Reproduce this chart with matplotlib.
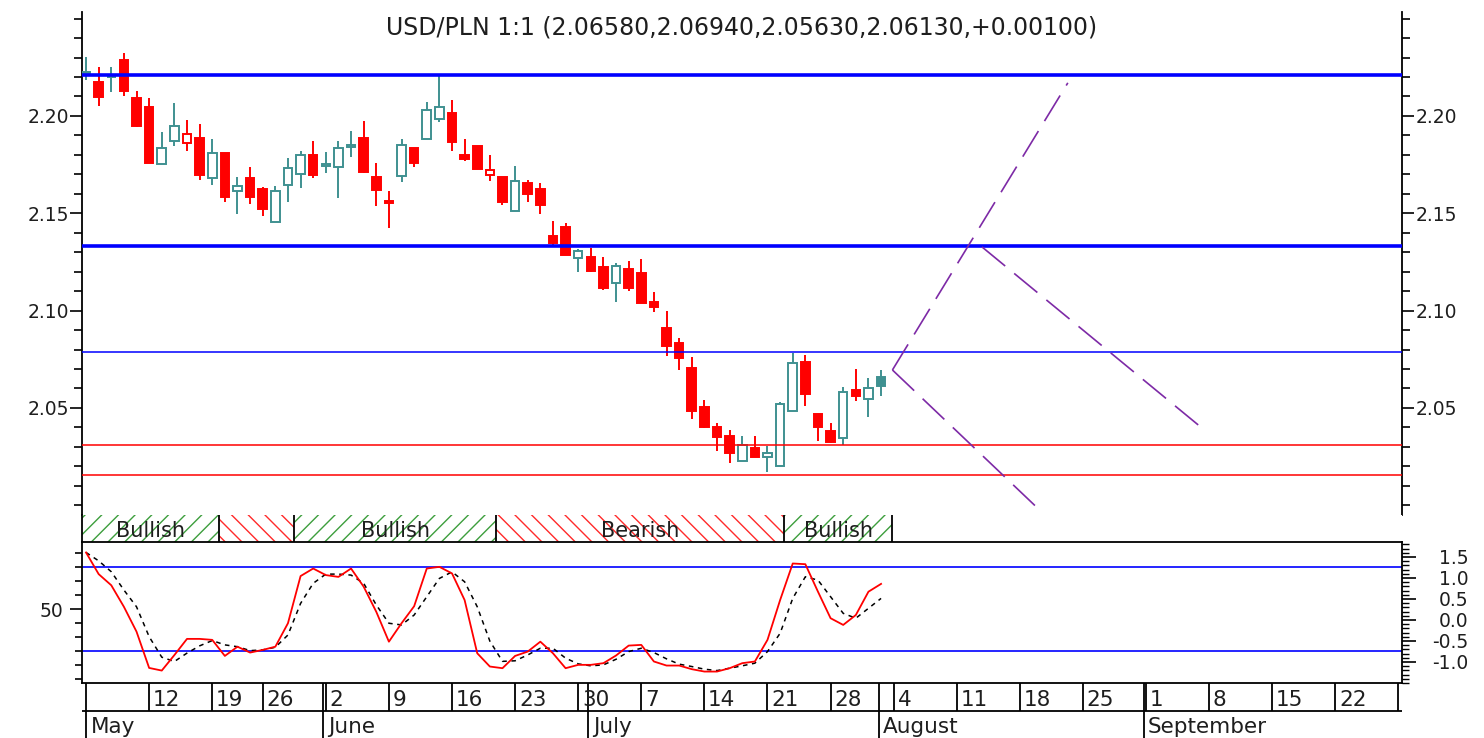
import numpy as np
import matplotlib.pyplot as plt
from matplotlib.patches import Rectangle
from matplotlib.ticker import FixedLocator, MultipleLocator

plt.rcParams['font.family'] = ['DejaVu Sans']
plt.rcParams['hatch.linewidth'] = 1.0

# ---- daily candles USD/PLN (trading-day index 0..63, May 5 .. Aug 1)
opens = [2.2221, 2.2175, 2.2198, 2.2288, 2.2092, 2.2046, 2.1753, 2.1872, 2.1861, 2.1887,
         2.1681, 2.1810, 2.1615, 2.1681, 2.1625, 2.1455, 2.1646, 2.1702, 2.1800, 2.1743,
         2.1738, 2.1841, 2.1887, 2.1687, 2.1563, 2.1692, 2.1836, 2.1882, 2.1985, 2.2015,
         2.1800, 2.1846, 2.1697, 2.1687, 2.1512, 2.1656, 2.1625, 2.1384, 2.1430, 2.1271,
         2.1276, 2.1224, 2.1142, 2.1214, 2.1193, 2.1045, 2.0911, 2.0834, 2.0705, 2.0505,
         2.0402, 2.0356, 2.0228, 2.0294, 2.0248, 2.0202, 2.0485, 2.0736, 2.0469, 2.0382,
         2.0346, 2.0592, 2.0546, 2.0658]
highs = [2.2303, 2.2252, 2.2252, 2.2324, 2.2128, 2.2092, 2.1918, 2.2067, 2.1979, 2.1959,
         2.1882, 2.1810, 2.1687, 2.1738, 2.1635, 2.1640, 2.1784, 2.1820, 2.1872, 2.1815,
         2.1872, 2.1923, 2.1974, 2.1759, 2.1615, 2.1882, 2.1836, 2.2072, 2.2211, 2.2082,
         2.1882, 2.1846, 2.1800, 2.1687, 2.1743, 2.1671, 2.1656, 2.1461, 2.1450, 2.1317,
         2.1322, 2.1276, 2.1245, 2.1255, 2.1265, 2.1096, 2.0998, 2.0860, 2.0762, 2.0541,
         2.0423, 2.0387, 2.0356, 2.0356, 2.0305, 2.0531, 2.0783, 2.0772, 2.0469, 2.0423,
         2.0608, 2.0700, 2.0654, 2.0694]
lows = [2.2185, 2.2051, 2.2123, 2.2103, 2.1943, 2.1759, 2.1753, 2.1846, 2.1820, 2.1671,
        2.1646, 2.1558, 2.1497, 2.1548, 2.1486, 2.1455, 2.1558, 2.1630, 2.1681, 2.1707,
        2.1579, 2.1789, 2.1707, 2.1538, 2.1425, 2.1661, 2.1738, 2.1882, 2.1969, 2.1820,
        2.1769, 2.1728, 2.1666, 2.1543, 2.1512, 2.1558, 2.1497, 2.1337, 2.1286, 2.1199,
        2.1199, 2.1106, 2.1045, 2.1101, 2.1039, 2.0993, 2.0767, 2.0695, 2.0443, 2.0397,
        2.0279, 2.0217, 2.0228, 2.0248, 2.0171, 2.0202, 2.0485, 2.0510, 2.0330, 2.0320,
        2.0310, 2.0536, 2.0454, 2.0563]
closes = [2.2226, 2.2098, 2.2202, 2.2128, 2.1949, 2.1759, 2.1836, 2.1949, 2.1908, 2.1697,
          2.1810, 2.1584, 2.1640, 2.1584, 2.1522, 2.1615, 2.1733, 2.1800, 2.1697, 2.1753,
          2.1836, 2.1851, 2.1712, 2.1620, 2.1553, 2.1851, 2.1759, 2.2031, 2.2046, 2.1866,
          2.1779, 2.1728, 2.1722, 2.1558, 2.1666, 2.1599, 2.1543, 2.1348, 2.1286, 2.1307,
          2.1204, 2.1116, 2.1229, 2.1116, 2.1039, 2.1019, 2.0818, 2.0757, 2.0485, 2.0402,
          2.0351, 2.0269, 2.0310, 2.0248, 2.0269, 2.0521, 2.0731, 2.0572, 2.0402, 2.0325,
          2.0582, 2.0562, 2.0603, 2.0613]

# stochastic oscillator (%K red, %D dashed)
stoch_k = [90.5, 75, 67, 51.6, 33.8, 7.8, 5.9, 17, 28.6, 28.6,
           27.9, 16.4, 23, 18.8, 20.7, 23, 39.8, 73.6, 79, 74.3,
           73, 79, 66, 48, 26.6, 39.8, 52, 79, 80.2, 75.5,
           56.4, 18.3, 8.8, 7.6, 16.4, 19.5, 26.6, 18.3, 7.6, 10,
           10, 11.2, 16.7, 23.8, 24.3, 12.4, 9.5, 9.5, 6.9, 5.2,
           5.2, 7.6, 11.2, 12.4, 27.9, 56.4, 82.6, 82.1, 62.4, 43.4,
           38.6, 45.7, 62.4, 68]
stoch_d = [90.5, 84.5, 76.7, 63.6, 51.6, 30.2, 15.5, 12.4, 18.4, 23.6,
           27.4, 24.3, 23, 20.2, 20.7, 22.6, 31.4, 54, 68.4, 75,
           75, 74.3, 68.4, 52.9, 39.8, 38.6, 45.7, 58.8, 71.9, 76.6,
           69.5, 51.6, 27, 12.5, 12.9, 17.1, 21.9, 21.9, 14.8, 10.7,
           9.3, 10, 14, 19.5, 21.9, 18.8, 14.3, 10.5, 8.8, 6.9,
           5.9, 7.6, 9.3, 11.2, 19.5, 32.6, 57.6, 73.1, 70.7, 58.8,
           46.9, 43.4, 50.5, 57.6]

# horizontal support / resistance lines
blue_thick = [2.2211, 2.1332]
blue_thin = [2.0788]
red_levels = [2.0310, 2.0156]

# purple trend lines (x in trading days)
fan_a = ([63.9, 77.8], [2.0695, 2.2170])
fan_b = ([63.9, 75.8], [2.0695, 1.9961])
fan_c = ([71.0, 88.8], [2.1327, 2.0377])

# trend band
band_edges = [-0.32, 10.5, 16.5, 32.5, 55.3, 63.9]
band_kind = ['bull', 'bear', 'bull', 'bear', 'bull']
band_text = ['Bullish', '', 'Bullish', 'Bearish', 'Bullish']

# date axis
week_pos = [5, 10, 14, 19, 24, 29, 34, 39, 44, 49, 54, 59, 64, 69, 74, 79, 84, 89, 94, 99, 104]
week_lbl = ['12', '19', '26', '2', '9', '16', '23', '30', '7', '14', '21', '28',
            '4', '11', '18', '25', '1', '8', '15', '22', '29']
month_pos = [0, 18.8, 39.8, 62.8, 83.8]
month_lbl = ['May', 'June', 'July', 'August', 'September']

W, H = 1484, 738
X0, X1 = -0.32, 104.28
TEAL = '#3f9191'
RED = '#ff0000'
BLUE = '#0000ff'
PURPLE = '#7d2aa6'
TXT = '#1e1e1e'

fig = plt.figure(figsize=(W / 100, H / 100), dpi=100)

def box(l, t, r, b):
    return [l / W, 1 - b / H, (r - l) / W, (b - t) / H]

ax = fig.add_axes(box(82, 12, 1402, 515))
axb = fig.add_axes(box(82, 515, 1402, 542), sharex=ax)
axs = fig.add_axes(box(82, 542, 1402, 683), sharex=ax)
axd = fig.add_axes(box(82, 683, 1402, 738), sharex=ax)

# ---- price panel
ax.set_xlim(X0, X1)
ax.set_ylim(1.9950, 2.2534)
n = len(opens)
bw = 0.68
for i in range(n):
    o, h, l, c = opens[i], highs[i], lows[i], closes[i]
    up = True if i == 0 else c >= closes[i - 1]
    col = TEAL if up else RED
    ax.vlines(i, l, h, color=col, lw=1.4, zorder=2)
    filled = c < o
    ax.add_patch(Rectangle((i - bw / 2, min(o, c)), bw, abs(c - o),
                           facecolor=col if filled else 'white',
                           edgecolor=col, lw=1.4, zorder=3))

for y in blue_thick:
    ax.axhline(y, color=BLUE, lw=2.6, zorder=4)
for y in blue_thin:
    ax.axhline(y, color=BLUE, lw=1.1, zorder=4)
for y in red_levels:
    ax.axhline(y, color=RED, lw=1.1, zorder=4)

for fx, fy in (fan_a, fan_b, fan_c):
    ax.plot(fx, fy, color=PURPLE, lw=1.2, ls=(0, (18, 7)), zorder=5)

ax.text(0.5, (515 - 28) / 503, 'USD/PLN 1:1 (2.06580,2.06940,2.05630,2.06130,+0.00100)',
        transform=ax.transAxes, ha='center', va='center', fontsize=17, color=TXT)

for s in ('top', 'bottom'):
    ax.spines[s].set_visible(False)
for s in ('left', 'right'):
    ax.spines[s].set_linewidth(1.3)
ax.yaxis.set_major_locator(FixedLocator([2.05, 2.10, 2.15, 2.20]))
ax.yaxis.set_minor_locator(FixedLocator(np.round(np.arange(2.00, 2.255, 0.01), 2)))
ax.yaxis.set_major_formatter(plt.FormatStrFormatter('%.2f'))
ax.tick_params(axis='y', which='both', left=True, right=True, labelleft=True,
               labelright=True, direction='out', width=1.2, colors='black',
               labelcolor=TXT, labelsize=13.5)
ax.tick_params(axis='y', which='major', length=8.5, pad=1)
ax.tick_params(axis='y', which='minor', length=5.5)
ax.tick_params(axis='x', which='both', bottom=False, labelbottom=False)

# ---- trend band
axb.set_ylim(0, 1)
for k in range(len(band_kind)):
    x0, x1 = band_edges[k], band_edges[k + 1]
    if band_kind[k] == 'bull':
        hc, hp = '#3d9e3d', '//'
    else:
        hc, hp = '#ff2a2a', '\\\\'
    axb.add_patch(Rectangle((x0, 0), x1 - x0, 1, facecolor='none', edgecolor=hc,
                            lw=0, hatch=hp))
    if band_text[k]:
        axb.text((x0 + x1) / 2, 0.2, band_text[k], ha='center', va='baseline',
                 fontsize=15, color=TXT)
for e in band_edges[1:]:
    axb.vlines(e, 0, 1, color='black', lw=1.3)
for s in ('top', 'bottom', 'right'):
    axb.spines[s].set_visible(False)
axb.spines['left'].set_linewidth(1.3)
axb.set_yticks([])
axb.tick_params(axis='x', which='both', bottom=False, labelbottom=False)

# ---- stochastic panel
xs = np.arange(n)
axs.set_ylim(-3, 98)
axs.axhline(80, color=BLUE, lw=1.2, zorder=1)
axs.axhline(20, color=BLUE, lw=1.2, zorder=1)
axs.plot(xs, stoch_d, color='black', lw=1.1, ls=(0, (3, 3)), zorder=2)
axs.plot(xs, stoch_k, color=RED, lw=1.3, zorder=3)
for s in axs.spines.values():
    s.set_linewidth(1.3)
axs.yaxis.set_major_locator(FixedLocator([50]))
axs.yaxis.set_minor_locator(FixedLocator([0, 10, 20, 30, 40, 60, 70, 80, 90]))
axs.tick_params(axis='y', which='both', direction='out', width=1.2, labelsize=13.5,
                labelcolor=TXT)
axs.tick_params(axis='y', which='major', length=8.5, pad=5)
axs.tick_params(axis='y', which='minor', length=5)
axs.tick_params(axis='x', which='both', bottom=False, labelbottom=False)

axr = axs.twinx()
axr.set_ylim(-1.5, 1.857)
axr.yaxis.set_major_locator(FixedLocator([-1.0, -0.5, 0.0, 0.5, 1.0, 1.5]))
axr.yaxis.set_minor_locator(MultipleLocator(0.1))
axr.yaxis.set_major_formatter(plt.FormatStrFormatter('%.1f'))
axr.tick_params(axis='y', which='major', direction='out', length=10, width=1.2,
                labelsize=13.5, labelcolor=TXT, pad=38)
axr.tick_params(axis='y', which='minor', direction='out', length=5, width=1.0)
for lab in axr.get_yticklabels():
    lab.set_horizontalalignment('right')
for s in axr.spines.values():
    s.set_visible(False)

# ---- date rows
axd.set_ylim(0, 1)
axd.axis('off')
row = (738 - 711) / 55
axd.hlines(row, X0, X1, color='black', lw=1.3)
for p, t in zip(week_pos, week_lbl):
    axd.vlines(p, row, 1, color='black', lw=1.3)
    axd.text(p + 0.3, 0.573, t, ha='left', va='baseline', fontsize=15.5, color=TXT,
             clip_on=True)
for p, t in zip(month_pos, month_lbl):
    axd.vlines(p, 0, 1, color='black', lw=1.3)
    axd.text(p + 0.35, 0.091, t, ha='left', va='baseline', fontsize=15.5, color=TXT,
             clip_on=True)

fig.savefig('out.png', dpi=100)
